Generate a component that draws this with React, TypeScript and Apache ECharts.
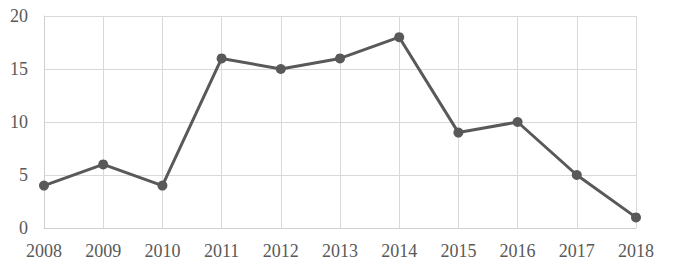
import React, { useEffect, useRef } from "react";
import * as echarts from "echarts";

const years = ["2008", "2009", "2010", "2011", "2012", "2013", "2014", "2015", "2016", "2017", "2018"];
const values = [4, 6, 4, 16, 15, 16, 18, 9, 10, 5, 1];

export default function App() {
  const ref = useRef<HTMLDivElement>(null);
  useEffect(() => {
    const chart = echarts.init(ref.current!, null, { renderer: "svg" });
    const font = "Liberation Serif";
    chart.setOption({
      animation: false,
      backgroundColor: "#ffffff",
      grid: { left: 44, right: 37, top: 16, bottom: 41 },
      xAxis: {
        type: "category",
        data: years,
        boundaryGap: false,
        axisLine: { lineStyle: { color: "#d0d0d0" } },
        axisTick: { show: false },
        splitLine: { show: true, lineStyle: { color: "#d9d9d9", width: 1 } },
        axisLabel: { color: "#595959", fontSize: 18, fontFamily: font, margin: 14 },
      },
      yAxis: {
        type: "value",
        min: 0,
        max: 20,
        interval: 5,
        axisLine: { show: true, lineStyle: { color: "#d0d0d0" } },
        axisTick: { show: false },
        splitLine: { show: true, lineStyle: { color: "#d9d9d9", width: 1 } },
        axisLabel: { color: "#595959", fontSize: 18, fontFamily: font, margin: 16 },
      },
      series: [
        {
          type: "line",
          data: values,
          symbol: "circle",
          symbolSize: 10,
          lineStyle: { color: "#595959", width: 3 },
          itemStyle: { color: "#595959" },
        },
      ],
    });
    return () => chart.dispose();
  }, []);
  return (
    <div
      ref={ref}
      style={{ position: "fixed", left: 0, top: 0, width: 673, height: 269 }}
    />
  );
}
